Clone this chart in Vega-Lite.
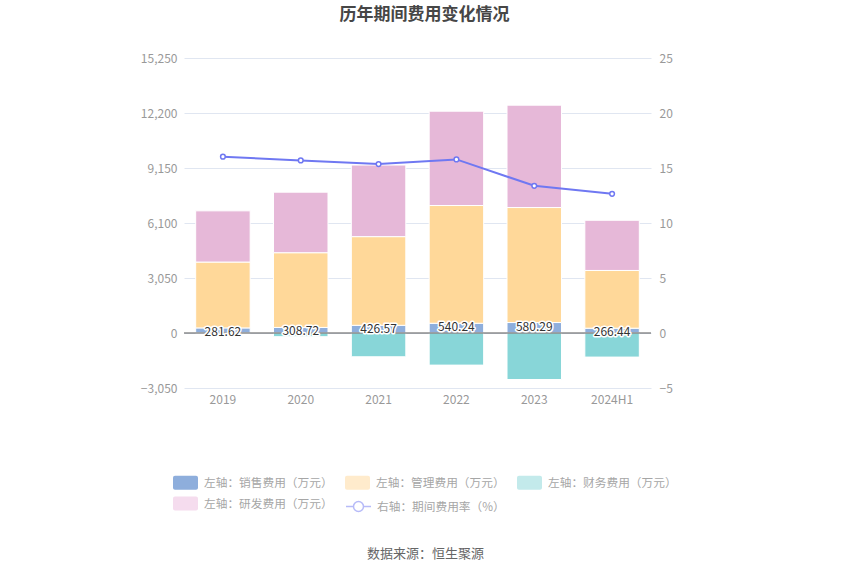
{
  "$schema": "https://vega.github.io/schema/vega-lite/v6.json",
  "width": 467,
  "height": 330,
  "autosize": "none",
  "padding": {"left": 184, "top": 58, "right": 199, "bottom": 187},
  "background": "white",
  "config": {
    "font": "Noto Sans CJK SC",
    "view": {"stroke": null}
  },
  "title": {
    "text": "历年期间费用变化情况",
    "fontSize": 17,
    "fontWeight": "bold",
    "color": "#464646",
    "anchor": "middle",
    "dx": 7,
    "offset": 28
  },
  "datasets": {
    "bars": [
      {"year": "2019", "type": "左轴：销售费用（万元）", "value": 281.62, "o": 1},
      {"year": "2019", "type": "左轴：管理费用（万元）", "value": 3653, "o": 2},
      {"year": "2019", "type": "左轴：财务费用（万元）", "value": -15, "o": 3},
      {"year": "2019", "type": "左轴：研发费用（万元）", "value": 2839, "o": 4},
      {"year": "2020", "type": "左轴：销售费用（万元）", "value": 308.72, "o": 1},
      {"year": "2020", "type": "左轴：管理费用（万元）", "value": 4144, "o": 2},
      {"year": "2020", "type": "左轴：财务费用（万元）", "value": -204, "o": 3},
      {"year": "2020", "type": "左轴：研发费用（万元）", "value": 3357, "o": 4},
      {"year": "2021", "type": "左轴：销售费用（万元）", "value": 426.57, "o": 1},
      {"year": "2021", "type": "左轴：管理费用（万元）", "value": 4917, "o": 2},
      {"year": "2021", "type": "左轴：财务费用（万元）", "value": -1318, "o": 3},
      {"year": "2021", "type": "左轴：研发费用（万元）", "value": 3970, "o": 4},
      {"year": "2022", "type": "左轴：销售费用（万元）", "value": 540.24, "o": 1},
      {"year": "2022", "type": "左轴：管理费用（万元）", "value": 6529, "o": 2},
      {"year": "2022", "type": "左轴：财务费用（万元）", "value": -1781, "o": 3},
      {"year": "2022", "type": "左轴：研发费用（万元）", "value": 5232, "o": 4},
      {"year": "2023", "type": "左轴：销售费用（万元）", "value": 580.29, "o": 1},
      {"year": "2023", "type": "左轴：管理费用（万元）", "value": 6377, "o": 2},
      {"year": "2023", "type": "左轴：财务费用（万元）", "value": -2579, "o": 3},
      {"year": "2023", "type": "左轴：研发费用（万元）", "value": 5677, "o": 4},
      {"year": "2024H1", "type": "左轴：销售费用（万元）", "value": 266.44, "o": 1},
      {"year": "2024H1", "type": "左轴：管理费用（万元）", "value": 3202, "o": 2},
      {"year": "2024H1", "type": "左轴：财务费用（万元）", "value": -1336, "o": 3},
      {"year": "2024H1", "type": "左轴：研发费用（万元）", "value": 2783, "o": 4}
    ],
    "rate": [
      {"year": "2019", "rate": 16.03, "sales": 281.62},
      {"year": "2020", "rate": 15.69, "sales": 308.72},
      {"year": "2021", "rate": 15.36, "sales": 426.57},
      {"year": "2022", "rate": 15.78, "sales": 540.24},
      {"year": "2023", "rate": 13.38, "sales": 580.29},
      {"year": "2024H1", "rate": 12.65, "sales": 266.44}
    ]
  },
  "encoding": {
    "x": {
      "field": "year",
      "type": "nominal",
      "sort": null,
      "scale": {"paddingInner": 0.3, "paddingOuter": 0.15},
      "axis": {
        "labelAngle": 0,
        "labelColor": "#999",
        "labelFontSize": 12,
        "labelPadding": 6,
        "domain": false,
        "ticks": false,
        "title": "数据来源：恒生聚源",
        "titleFontSize": 13,
        "titleFontWeight": "normal",
        "titleColor": "#666",
        "titlePadding": 142,
        "titleX": 241
      }
    }
  },
  "layer": [
    {
      "layer": [
        {
          "data": {"name": "bars"},
          "mark": {"type": "bar", "stroke": "white", "strokeWidth": 1},
          "encoding": {
            "y": {
              "field": "value",
              "type": "quantitative",
              "stack": "zero",
              "scale": {"domain": [-3050, 15250], "nice": false},
              "axis": {
                "values": [-3050, 0, 3050, 6100, 9150, 12200, 15250],
                "format": ",d",
                "title": null,
                "labelColor": "#999",
                "labelFontSize": 12,
                "labelPadding": 7,
                "domain": false,
                "ticks": false,
                "gridColor": "#e0e6f1",
                "gridWidth": 1
              }
            },
            "order": {"field": "o", "type": "quantitative"},
            "color": {
              "field": "type",
              "type": "nominal",
              "scale": {
                "domain": ["左轴：研发费用（万元）", "左轴：销售费用（万元）", "左轴：管理费用（万元）", "左轴：财务费用（万元）"],
                "range": ["#e6b8d8", "#8eaedc", "#ffd899", "#88d6d8"]
              },
              "legend": null
            }
          }
        },
        {
          "data": {"name": "bars"},
          "mark": {"type": "bar"},
          "encoding": {
            "y": {"datum": 0, "type": "quantitative"},
            "y2": {"datum": 0},
            "fill": {
              "field": "type",
              "type": "nominal",
              "scale": {
                "domain": ["左轴：销售费用（万元）", "左轴：管理费用（万元）", "左轴：财务费用（万元）", "左轴：研发费用（万元）"],
                "range": ["#8eaedc", "#ffebcc", "#c3eaeb", "#f5dcee"]
              },
              "legend": {
                "orient": "none",
                "legendX": -12,
                "legendY": 411,
                "direction": "horizontal",
                "columns": 3,
                "title": null,
                "columnPadding": 11,
                "rowPadding": -1,
                "symbolSize": 625,
                "symbolType": "M-0.84,-0.56H0.84A0.16,0.16,0,0,1,1,-0.4V0.4A0.16,0.16,0,0,1,0.84,0.56H-0.84A0.16,0.16,0,0,1,-1,0.4V-0.4A0.16,0.16,0,0,1,-0.84,-0.56Z",
                "labelFontSize": 11.7,
                "labelOffset": 5,
                "labelColor": "#a6a6a6",
                "labelLimit": 300
              }
            }
          }
        },
        {
          "data": {"values": [{}]},
          "mark": {"type": "rule"},
          "encoding": {
            "x": {"value": 0},
            "y": {"datum": 0, "type": "quantitative"},
            "y2": {"datum": 0},
            "stroke": {
              "datum": "右轴：期间费用率（%）",
              "type": "nominal",
              "scale": {"range": ["#b7bbf8"]},
              "legend": {
                "orient": "none",
                "legendX": 161,
                "legendY": 435,
                "title": null,
                "symbolSize": 625,
                "symbolType": "M-1,0H-0.4M0.4,0H1M-0.4,0A0.4,0.4,0,1,1,0.4,0A0.4,0.4,0,1,1,-0.4,0",
                "symbolStrokeWidth": 1.5,
                "labelFontSize": 11.7,
                "labelOffset": 5,
                "labelColor": "#a6a6a6",
                "labelLimit": 300
              }
            }
          }
        },
        {
          "data": {"values": [{}]},
          "mark": {"type": "rule", "color": "#555", "strokeWidth": 1},
          "encoding": {
            "x": {"value": 0},
            "x2": {"value": 467},
            "y": {"datum": 0, "type": "quantitative"}
          }
        },
        {
          "data": {"name": "rate"},
          "mark": {"type": "text", "fontSize": 12, "baseline": "middle", "dy": 4, "stroke": "white", "strokeWidth": 3, "strokeJoin": "round", "fill": "white"},
          "encoding": {
            "y": {"field": "sales", "type": "quantitative"},
            "text": {"field": "sales", "type": "quantitative", "format": ".2f"}
          }
        },
        {
          "data": {"name": "rate"},
          "mark": {"type": "text", "fontSize": 12, "baseline": "middle", "dy": 4, "fill": "#333"},
          "encoding": {
            "y": {"field": "sales", "type": "quantitative"},
            "text": {"field": "sales", "type": "quantitative", "format": ".2f"}
          }
        }
      ]
    },
    {
      "data": {"name": "rate"},
      "mark": {
        "type": "line",
        "color": "#6f78f2",
        "strokeWidth": 2,
        "point": {"filled": true, "fill": "white", "stroke": "#6f78f2", "strokeWidth": 1.5, "size": 22}
      },
      "encoding": {
        "y": {
          "field": "rate",
          "type": "quantitative",
          "scale": {"domain": [-5, 25], "nice": false},
          "axis": {
            "orient": "right",
            "values": [-5, 0, 5, 10, 15, 20, 25],
            "title": null,
            "labelColor": "#999",
            "labelFontSize": 12,
            "labelPadding": 8,
            "domain": false,
            "ticks": false,
            "grid": false
          }
        }
      }
    }
  ],
  "resolve": {"scale": {"y": "independent"}}
}
